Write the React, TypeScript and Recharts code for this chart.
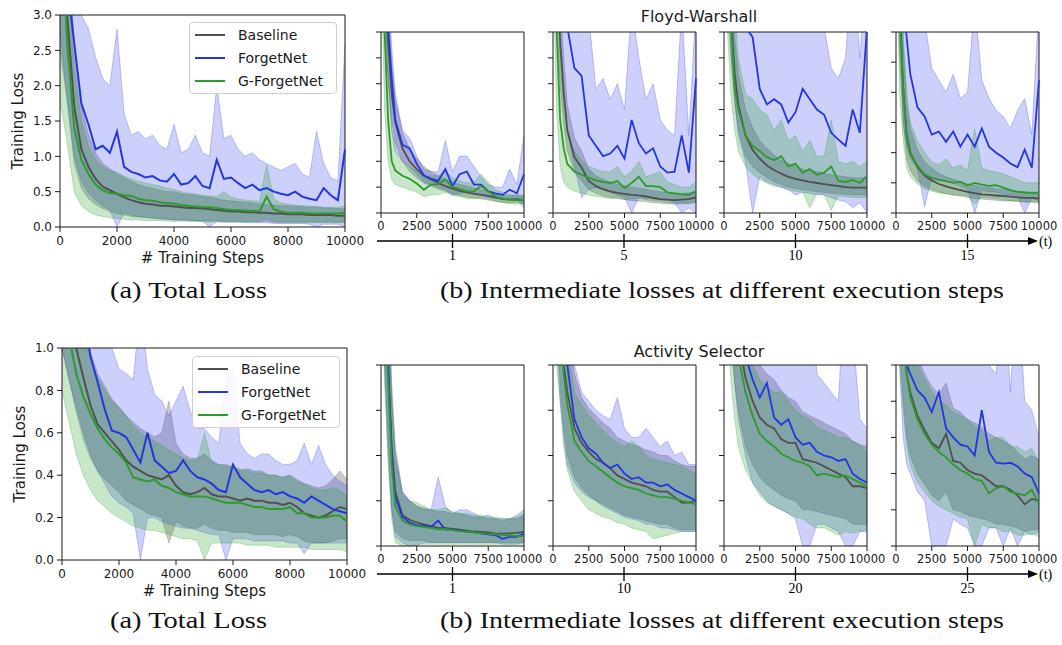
import { Area, ComposedChart, Legend, Line, ReferenceArea, XAxis, YAxis } from "recharts";

// x grids (training steps)
const BIG_STEPS = [0, 250, 500, 750, 1000, 1250, 1500, 1750, 2000, 2250, 2500, 2750, 3000, 3250, 3500, 3750, 4000, 4250, 4500, 4750, 5000, 5250, 5500, 5750, 6000, 6250, 6500, 6750, 7000, 7250, 7500, 7750, 8000, 8250, 8500, 8750, 9000, 9250, 9500, 9750, 10000];
const SMALL_STEPS = [0, 250, 500, 750, 1000, 1500, 2000, 2500, 3000, 3500, 4000, 4500, 5000, 5500, 6000, 6500, 7000, 7500, 8000, 8500, 9000, 9500, 10000];
const BIG_X_TICKS = [0, 2000, 4000, 6000, 8000, 10000];
const SMALL_X_TICKS = [0, 2500, 5000, 7500, 10000];

// ---- Floyd-Warshall, total loss
const fwBaseMean = [5, 3.0, 1.7, 1.1, 0.85, 0.68, 0.57, 0.52, 0.47, 0.42, 0.38, 0.35, 0.33, 0.32, 0.3, 0.3, 0.29, 0.28, 0.27, 0.27, 0.26, 0.25, 0.24, 0.23, 0.22, 0.22, 0.21, 0.21, 0.2, 0.2, 0.19, 0.19, 0.18, 0.18, 0.18, 0.17, 0.17, 0.17, 0.17, 0.16, 0.16];
const fwBaseHi = [5, 4.2, 2.6, 1.7, 1.3, 1.05, 0.9, 0.82, 0.75, 0.7, 0.65, 0.6, 0.57, 0.55, 0.52, 0.5, 0.5, 0.47, 0.46, 0.45, 0.43, 0.42, 0.4, 0.38, 0.37, 0.36, 0.35, 0.34, 0.33, 0.32, 0.31, 0.3, 0.3, 0.29, 0.29, 0.28, 0.28, 0.27, 0.27, 0.26, 0.26];
const fwBaseLo = [2.5, 1.8, 0.9, 0.55, 0.4, 0.32, 0.26, 0.22, 0.19, 0.17, 0.15, 0.14, 0.13, 0.12, 0.11, 0.11, 0.1, 0.1, 0.1, 0.09, 0.09, 0.09, 0.09, 0.08, 0.08, 0.08, 0.08, 0.08, 0.08, 0.08, 0.07, 0.07, 0.07, 0.07, 0.07, 0.07, 0.07, 0.07, 0.07, 0.07, 0.07];
const fwFnMean = [4.5, 3.5, 2.6, 1.75, 1.45, 1.1, 1.15, 1.05, 1.35, 0.85, 0.78, 0.75, 0.7, 0.72, 0.66, 0.64, 0.75, 0.6, 0.62, 0.72, 0.58, 0.55, 0.95, 0.68, 0.7, 0.62, 0.55, 0.6, 0.52, 0.55, 0.5, 0.47, 0.45, 0.5, 0.43, 0.4, 0.38, 0.55, 0.45, 0.38, 1.1];
const fwFnHi = [5, 4.5, 3.5, 3.0, 2.8, 2.4, 2.1, 2.0, 2.8, 1.6, 1.3, 1.35, 1.25, 1.3, 1.15, 1.1, 1.45, 1.05, 1.1, 1.3, 1.05, 1.0, 2.0, 1.25, 1.3, 1.1, 1.0, 1.05, 0.95, 0.9, 0.85, 0.8, 0.85, 0.9, 0.75, 0.7, 1.35, 0.9, 0.7, 0.65, 2.6];
const fwFnLo = [2.8, 1.8, 1.0, 0.65, 0.48, 0.38, 0.3, 0.24, 0.0, 0.2, 0.17, 0.15, 0.14, 0.13, 0.12, 0.11, 0.1, 0.1, 0.09, 0.09, 0.08, 0.0, 0.08, 0.07, 0.07, 0.07, 0.06, 0.06, 0.06, 0.06, 0.05, 0.05, 0.05, 0.05, 0.05, 0.04, 0.0, 0.04, 0.04, 0.04, 0.0];
const fwGfMean = [5, 2.6, 1.4, 0.95, 0.75, 0.6, 0.52, 0.48, 0.47, 0.45, 0.44, 0.4, 0.38, 0.37, 0.35, 0.34, 0.33, 0.31, 0.3, 0.29, 0.28, 0.28, 0.27, 0.25, 0.24, 0.24, 0.23, 0.23, 0.22, 0.43, 0.25, 0.22, 0.2, 0.2, 0.2, 0.19, 0.19, 0.19, 0.19, 0.19, 0.2];
const fwGfHi = [5, 3.8, 2.2, 1.5, 1.15, 0.95, 0.85, 0.8, 0.78, 0.72, 0.68, 0.65, 0.62, 0.6, 0.58, 0.55, 0.53, 0.5, 0.48, 0.47, 0.45, 0.44, 0.43, 0.5, 0.42, 0.4, 0.38, 0.37, 0.36, 0.88, 0.4, 0.34, 0.32, 0.31, 0.3, 0.3, 0.29, 0.28, 0.28, 0.28, 0.3];
const fwGfLo = [1.8, 1.2, 0.5, 0.3, 0.22, 0.17, 0.15, 0.13, 0.12, 0.11, 0.1, 0.1, 0.09, 0.09, 0.09, 0.08, 0.08, 0.08, 0.08, 0.08, 0.07, 0.07, 0.07, 0.07, 0.07, 0.07, 0.07, 0.07, 0.07, 0.12, 0.07, 0.06, 0.06, 0.06, 0.06, 0.06, 0.06, 0.06, 0.06, 0.06, 0.06];

// ---- Floyd-Warshall, execution step 1
const fw1BaseMean = [5, 5, 3.3, 2.3, 1.75, 1.25, 1.0, 0.85, 0.72, 0.65, 0.58, 0.52, 0.47, 0.43, 0.4, 0.37, 0.35, 0.33, 0.3, 0.27, 0.26, 0.27, 0.25];
const fw1BaseHi = [5, 5, 4.0, 2.9, 2.2, 1.55, 1.25, 1.05, 0.9, 0.8, 0.72, 0.65, 0.6, 0.55, 0.52, 0.48, 0.45, 0.42, 0.38, 0.35, 0.33, 0.34, 0.32];
const fw1BaseLo = [5, 3.5, 2.6, 1.8, 1.35, 1.0, 0.8, 0.68, 0.58, 0.52, 0.46, 0.42, 0.37, 0.34, 0.31, 0.29, 0.27, 0.25, 0.23, 0.21, 0.2, 0.21, 0.19];
const fw1FnMean = [5, 5, 3.6, 2.6, 1.8, 1.32, 1.25, 0.95, 0.73, 0.66, 0.62, 0.85, 0.52, 0.75, 0.8, 0.55, 0.55, 0.42, 0.38, 0.35, 0.45, 0.38, 0.75];
const fw1FnHi = [5, 5, 4.5, 3.2, 2.3, 1.6, 1.45, 1.1, 0.85, 0.8, 0.8, 1.4, 0.8, 1.1, 1.1, 0.9, 0.7, 0.55, 0.5, 0.5, 0.85, 0.55, 1.5];
const fw1FnLo = [5, 4, 2.6, 1.6, 1.2, 1.0, 0.9, 0.75, 0.6, 0.55, 0.5, 0.45, 0.35, 0.38, 0.4, 0.38, 0.35, 0.3, 0.28, 0.28, 0.28, 0.28, 0.1];
const fw1GfMean = [5, 3.5, 1.8, 1.0, 0.82, 0.72, 0.66, 0.57, 0.45, 0.55, 0.56, 0.65, 0.5, 0.46, 0.42, 0.42, 0.52, 0.42, 0.32, 0.28, 0.26, 0.25, 0.26];
const fw1GfHi = [5, 5, 2.8, 1.6, 1.2, 1.0, 0.9, 0.8, 0.7, 0.72, 0.72, 0.82, 0.68, 0.62, 0.58, 0.6, 0.75, 0.6, 0.45, 0.4, 0.36, 0.35, 0.35];
const fw1GfLo = [5, 2.0, 1.0, 0.65, 0.55, 0.5, 0.45, 0.4, 0.32, 0.35, 0.36, 0.4, 0.34, 0.32, 0.28, 0.28, 0.3, 0.28, 0.22, 0.2, 0.18, 0.17, 0.18];

// ---- Floyd-Warshall, execution step 5
const fw2BaseMean = [5, 5, 3.3, 2.3, 1.6, 1.08, 0.88, 0.62, 0.52, 0.46, 0.42, 0.39, 0.37, 0.35, 0.34, 0.32, 0.29, 0.27, 0.26, 0.25, 0.26, 0.27, 0.3];
const fw2BaseHi = [5, 5, 4.2, 3.0, 2.1, 1.45, 1.2, 0.85, 0.72, 0.65, 0.6, 0.56, 0.53, 0.5, 0.48, 0.46, 0.43, 0.41, 0.4, 0.38, 0.38, 0.39, 0.42];
const fw2BaseLo = [5, 3.6, 2.5, 1.7, 1.2, 0.8, 0.62, 0.45, 0.38, 0.33, 0.3, 0.28, 0.26, 0.24, 0.23, 0.22, 0.2, 0.19, 0.18, 0.17, 0.18, 0.18, 0.2];
const fw2FnMean = [5, 5, 5, 4.2, 3.6, 2.8, 2.65, 1.5, 1.3, 1.1, 1.15, 1.3, 1.05, 1.8, 1.35, 1.15, 1.25, 0.9, 0.78, 0.8, 1.5, 0.78, 2.6];
const fw2FnHi = [5, 5, 5, 5, 5, 4, 4.5, 3.8, 2.4, 2.6, 2.2, 2.5, 2.0, 4.0, 3.0, 2.2, 2.5, 1.8, 1.6, 1.5, 4.0, 1.5, 4.0];
const fw2FnLo = [5, 5, 3.5, 2.5, 1.6, 0.9, 0.3, 0.45, 0.5, 0.45, 0.4, 0.35, 0.3, 0.0, 0.3, 0.28, 0.3, 0.25, 0.25, 0.2, 0.0, 0.1, 0.0];
const fw2GfMean = [5, 3.6, 1.8, 1.25, 0.95, 0.8, 0.74, 0.68, 0.63, 0.6, 0.58, 0.62, 0.48, 0.58, 0.7, 0.52, 0.52, 0.5, 0.4, 0.38, 0.36, 0.35, 0.42];
const fw2GfHi = [5, 5, 3.0, 2.0, 1.5, 1.2, 1.0, 0.9, 0.85, 0.8, 0.8, 0.9, 0.7, 0.8, 1.0, 0.7, 0.75, 0.8, 0.6, 0.55, 0.5, 0.5, 0.6];
const fw2GfLo = [5, 2.0, 0.9, 0.6, 0.5, 0.42, 0.38, 0.35, 0.32, 0.3, 0.28, 0.3, 0.26, 0.27, 0.3, 0.25, 0.24, 0.23, 0.2, 0.2, 0.2, 0.2, 0.22];

// ---- Floyd-Warshall, execution step 10
const fw3BaseMean = [5, 5, 3.8, 2.7, 2.1, 1.5, 1.22, 1.05, 0.92, 0.83, 0.76, 0.7, 0.66, 0.63, 0.6, 0.58, 0.56, 0.54, 0.52, 0.5, 0.49, 0.49, 0.49];
const fw3BaseHi = [5, 5, 4.6, 3.4, 2.7, 2.0, 1.65, 1.4, 1.25, 1.12, 1.02, 0.95, 0.9, 0.85, 0.82, 0.8, 0.77, 0.74, 0.72, 0.7, 0.68, 0.68, 0.68];
const fw3BaseLo = [5, 4, 3.0, 2.1, 1.6, 1.1, 0.9, 0.78, 0.68, 0.6, 0.55, 0.5, 0.47, 0.45, 0.43, 0.41, 0.4, 0.38, 0.37, 0.36, 0.35, 0.35, 0.35];
const fw3FnMean = [5, 5, 5, 5, 4.5, 3.6, 3.4, 2.4, 2.1, 2.2, 2.1, 1.75, 1.95, 2.4, 2.2, 2.0, 1.9, 1.55, 1.42, 1.3, 2.0, 1.55, 3.6];
const fw3FnHi = [5, 5, 5, 5, 5, 5, 5, 5, 5, 5, 5, 3.8, 4.5, 5, 4, 3.5, 3.6, 2.8, 2.6, 3.0, 5, 3.0, 5];
const fw3FnLo = [5, 5, 3.0, 2.2, 1.5, 1.0, 0.0, 0.7, 0.6, 0.55, 0.5, 0.45, 0.35, 0.4, 0.38, 0.35, 0.35, 0.3, 0.25, 0.22, 0.1, 0.2, 0.0];
const fw3GfMean = [5, 5, 3.6, 2.4, 2.0, 1.5, 1.3, 1.2, 1.08, 1.02, 1.1, 0.9, 0.95, 0.78, 0.85, 0.74, 0.78, 0.9, 0.62, 0.6, 0.64, 0.58, 0.72];
const fw3GfHi = [5, 5, 5, 4.0, 3.0, 2.3, 2.2, 2.0, 1.9, 1.6, 1.8, 1.4, 1.5, 1.2, 1.4, 1.1, 1.1, 1.8, 1.0, 0.95, 1.0, 0.9, 1.0];
const fw3GfLo = [5, 3.5, 2.2, 1.6, 1.2, 0.9, 0.75, 0.65, 0.58, 0.52, 0.5, 0.45, 0.42, 0.4, 0.1, 0.38, 0.36, 0.05, 0.33, 0.32, 0.3, 0.3, 0.3];

// ---- Floyd-Warshall, execution step 15
const fw4BaseMean = [5, 3.5, 2.1, 1.3, 1.0, 0.76, 0.62, 0.54, 0.48, 0.44, 0.41, 0.38, 0.35, 0.33, 0.31, 0.3, 0.29, 0.28, 0.27, 0.26, 0.25, 0.25, 0.24];
const fw4BaseHi = [5, 4.5, 2.8, 1.8, 1.4, 1.05, 0.85, 0.74, 0.66, 0.6, 0.56, 0.52, 0.48, 0.46, 0.43, 0.42, 0.4, 0.39, 0.37, 0.36, 0.35, 0.35, 0.34];
const fw4BaseLo = [5, 2.6, 1.5, 0.9, 0.7, 0.53, 0.44, 0.39, 0.35, 0.32, 0.3, 0.28, 0.26, 0.24, 0.23, 0.22, 0.21, 0.2, 0.2, 0.19, 0.18, 0.18, 0.17];
const fw4FnMean = [5, 5, 3.5, 2.9, 2.3, 1.75, 1.6, 1.3, 1.35, 1.18, 1.35, 1.1, 1.3, 1.1, 1.4, 1.1, 1.0, 0.92, 0.82, 0.76, 1.05, 0.75, 2.2];
const fw4FnHi = [5, 5, 5, 5, 5, 5, 3.2, 2.4, 2.2, 2.0, 2.3, 1.9, 2.0, 3.5, 2.2, 1.9, 1.7, 1.6, 1.4, 1.7, 1.9, 1.3, 3.5];
const fw4FnLo = [5, 3, 1.5, 1.1, 0.9, 0.75, 0.1, 0.6, 0.55, 0.52, 0.5, 0.45, 0.4, 0.0, 0.38, 0.35, 0.35, 0.3, 0.3, 0.28, 0.0, 0.25, 0.2];
const fw4GfMean = [5, 3.4, 2.0, 1.25, 0.98, 0.78, 0.64, 0.58, 0.55, 0.53, 0.5, 0.52, 0.46, 0.5, 0.47, 0.45, 0.46, 0.42, 0.38, 0.35, 0.34, 0.33, 0.34];
const fw4GfHi = [5, 5, 3.0, 2.0, 1.5, 1.2, 1.0, 0.85, 0.8, 0.9, 0.75, 0.8, 0.7, 1.4, 0.75, 0.7, 0.68, 0.65, 0.6, 0.55, 0.5, 0.5, 0.5];
const fw4GfLo = [5, 2.0, 1.2, 0.75, 0.6, 0.48, 0.4, 0.36, 0.33, 0.32, 0.3, 0.3, 0.28, 0.15, 0.26, 0.25, 0.24, 0.22, 0.2, 0.2, 0.19, 0.19, 0.18];

// ---- Activity Selector, total loss
const asBaseMean = [1.3, 1.15, 1.0, 0.86, 0.73, 0.64, 0.6, 0.56, 0.52, 0.47, 0.44, 0.42, 0.4, 0.39, 0.38, 0.4, 0.35, 0.32, 0.31, 0.32, 0.34, 0.31, 0.3, 0.3, 0.29, 0.28, 0.29, 0.28, 0.28, 0.27, 0.27, 0.26, 0.27, 0.25, 0.22, 0.21, 0.2, 0.21, 0.23, 0.25, 0.24];
const asBaseHi = [1.6, 1.5, 1.35, 1.15, 0.98, 0.88, 0.82, 0.76, 0.72, 0.68, 0.65, 0.62, 0.6, 0.58, 0.6, 0.75, 0.55, 0.5, 0.48, 0.48, 0.5, 0.47, 0.45, 0.45, 0.44, 0.42, 0.43, 0.42, 0.42, 0.4, 0.4, 0.39, 0.4, 0.38, 0.36, 0.35, 0.34, 0.35, 0.38, 0.42, 0.38];
const asBaseLo = [1.0, 0.85, 0.7, 0.57, 0.48, 0.42, 0.38, 0.35, 0.32, 0.28, 0.26, 0.24, 0.22, 0.21, 0.2, 0.08, 0.18, 0.16, 0.15, 0.15, 0.17, 0.15, 0.14, 0.14, 0.13, 0.13, 0.13, 0.12, 0.12, 0.12, 0.12, 0.11, 0.12, 0.11, 0.09, 0.08, 0.08, 0.08, 0.09, 0.1, 0.1];
const asFnMean = [1.6, 1.5, 1.35, 1.15, 0.96, 0.84, 0.71, 0.61, 0.6, 0.58, 0.52, 0.46, 0.6, 0.47, 0.44, 0.41, 0.42, 0.47, 0.42, 0.39, 0.38, 0.36, 0.33, 0.32, 0.45, 0.39, 0.36, 0.33, 0.32, 0.33, 0.31, 0.32, 0.3, 0.29, 0.27, 0.3, 0.28, 0.26, 0.24, 0.23, 0.22];
const asFnHi = [1.6, 1.6, 1.6, 1.6, 1.6, 1.6, 1.6, 1.0, 0.9, 0.88, 0.85, 1.2, 0.9, 0.78, 0.75, 0.68, 0.75, 0.82, 0.7, 0.62, 0.62, 0.58, 0.55, 0.85, 0.9, 0.55, 0.5, 0.48, 0.5, 0.5, 0.47, 0.45, 0.45, 0.47, 0.55, 0.45, 0.54, 0.45, 0.4, 0.37, 0.35];
const asFnLo = [1.0, 0.85, 0.72, 0.6, 0.5, 0.42, 0.36, 0.3, 0.27, 0.25, 0.22, 0.0, 0.2, 0.2, 0.18, 0.17, 0.16, 0.15, 0.15, 0.14, 0.13, 0.12, 0.12, 0.0, 0.1, 0.1, 0.1, 0.09, 0.09, 0.09, 0.09, 0.09, 0.08, 0.08, 0.03, 0.08, 0.08, 0.08, 0.08, 0.08, 0.08];
const asGfMean = [1.2, 1.05, 0.88, 0.77, 0.69, 0.62, 0.57, 0.53, 0.5, 0.46, 0.39, 0.38, 0.37, 0.38, 0.35, 0.34, 0.32, 0.31, 0.3, 0.3, 0.3, 0.29, 0.28, 0.27, 0.27, 0.27, 0.26, 0.25, 0.25, 0.24, 0.24, 0.24, 0.25, 0.22, 0.22, 0.2, 0.2, 0.2, 0.21, 0.21, 0.18];
const asGfHi = [1.6, 1.4, 1.2, 1.05, 0.95, 0.86, 0.8, 0.75, 0.72, 0.68, 0.63, 0.6, 0.58, 0.56, 0.54, 0.52, 0.5, 0.48, 0.47, 0.47, 0.6, 0.46, 0.45, 0.44, 0.44, 0.43, 0.42, 0.41, 0.41, 0.4, 0.4, 0.39, 0.4, 0.37, 0.36, 0.34, 0.33, 0.33, 0.34, 0.33, 0.3];
const asGfLo = [0.8, 0.65, 0.5, 0.4, 0.33, 0.28, 0.25, 0.22, 0.2, 0.18, 0.16, 0.15, 0.14, 0.14, 0.13, 0.12, 0.11, 0.1, 0.1, 0.09, 0.0, 0.08, 0.08, 0.08, 0.08, 0.08, 0.07, 0.07, 0.07, 0.07, 0.06, 0.06, 0.06, 0.06, 0.06, 0.05, 0.05, 0.05, 0.05, 0.05, 0.04];

// ---- Activity Selector, execution step 1
const as1BaseMean = [1.5, 1.4, 1.0, 0.55, 0.3, 0.17, 0.145, 0.13, 0.12, 0.11, 0.1, 0.1, 0.095, 0.09, 0.085, 0.08, 0.078, 0.075, 0.07, 0.068, 0.07, 0.072, 0.08];
const as1BaseHi = [1.5, 1.5, 1.4, 0.9, 0.55, 0.3, 0.25, 0.22, 0.21, 0.2, 0.19, 0.19, 0.18, 0.18, 0.17, 0.16, 0.16, 0.15, 0.15, 0.14, 0.15, 0.15, 0.17];
const as1BaseLo = [1.5, 1.0, 0.6, 0.2, 0.08, 0.04, 0.03, 0.03, 0.03, 0.02, 0.02, 0.02, 0.02, 0.02, 0.02, 0.02, 0.02, 0.02, 0.02, 0.02, 0.02, 0.02, 0.02];
const as1FnMean = [1.5, 1.4, 1.0, 0.5, 0.27, 0.16, 0.13, 0.115, 0.112, 0.105, 0.14, 0.09, 0.09, 0.085, 0.08, 0.075, 0.07, 0.065, 0.06, 0.04, 0.05, 0.05, 0.07];
const as1FnHi = [1.5, 1.5, 1.5, 0.8, 0.5, 0.3, 0.25, 0.22, 0.2, 0.2, 0.38, 0.22, 0.18, 0.2, 0.2, 0.18, 0.16, 0.17, 0.15, 0.15, 0.15, 0.17, 0.2];
const as1FnLo = [1.5, 1.0, 0.5, 0.2, 0.05, 0.02, 0, 0, 0.02, 0.02, 0.02, 0.02, 0.02, 0.02, 0.02, 0.02, 0.02, 0.02, 0.02, 0.01, 0.01, 0.01, 0.02];
const as1GfMean = [1.5, 1.3, 0.9, 0.45, 0.22, 0.14, 0.12, 0.11, 0.105, 0.1, 0.09, 0.095, 0.088, 0.082, 0.08, 0.075, 0.07, 0.068, 0.065, 0.06, 0.058, 0.055, 0.055];
const as1GfHi = [1.5, 1.5, 1.3, 0.8, 0.48, 0.28, 0.25, 0.24, 0.22, 0.2, 0.2, 0.21, 0.19, 0.18, 0.18, 0.17, 0.17, 0.16, 0.16, 0.15, 0.15, 0.16, 0.18];
const as1GfLo = [1.5, 0.9, 0.45, 0.15, 0.02, 0, 0, 0.01, 0.01, 0.01, 0.01, 0.01, 0.01, 0.01, 0.01, 0.01, 0.01, 0.01, 0.01, 0.01, 0.01, 0.01, 0.01];

// ---- Activity Selector, execution step 10
const as2BaseMean = [1.5, 1.5, 1.3, 1.0, 0.85, 0.65, 0.57, 0.52, 0.48, 0.46, 0.43, 0.39, 0.37, 0.35, 0.34, 0.33, 0.31, 0.3, 0.3, 0.27, 0.24, 0.24, 0.25];
const as2BaseHi = [1.5, 1.5, 1.5, 1.4, 1.2, 0.95, 0.82, 0.76, 0.72, 0.68, 0.65, 0.6, 0.58, 0.56, 0.55, 0.53, 0.52, 0.5, 0.5, 0.47, 0.45, 0.44, 0.44];
const as2BaseLo = [1.5, 1.2, 0.9, 0.65, 0.5, 0.38, 0.32, 0.28, 0.25, 0.23, 0.21, 0.19, 0.17, 0.16, 0.15, 0.14, 0.13, 0.12, 0.12, 0.1, 0.09, 0.09, 0.09];
const as2FnMean = [1.5, 1.5, 1.3, 1.1, 1.0, 0.7, 0.6, 0.54, 0.51, 0.46, 0.43, 0.45, 0.4, 0.37, 0.38, 0.35, 0.35, 0.33, 0.34, 0.31, 0.29, 0.27, 0.25];
const as2FnHi = [1.5, 1.5, 1.5, 1.5, 1.2, 1.0, 0.85, 0.8, 0.75, 0.72, 0.7, 0.82, 0.65, 0.6, 0.6, 0.65, 0.6, 0.55, 0.58, 0.5, 0.52, 0.45, 0.45];
const as2FnLo = [1.5, 1.2, 0.8, 0.6, 0.45, 0.35, 0.3, 0.27, 0.25, 0.22, 0.2, 0.18, 0.16, 0.15, 0.14, 0.12, 0.12, 0.1, 0.1, 0.09, 0.08, 0.08, 0.08];
const as2GfMean = [1.5, 1.4, 1.2, 0.95, 0.78, 0.58, 0.52, 0.47, 0.44, 0.41, 0.38, 0.35, 0.33, 0.32, 0.31, 0.29, 0.28, 0.27, 0.27, 0.26, 0.25, 0.24, 0.23];
const as2GfHi = [1.5, 1.5, 1.5, 1.3, 1.1, 0.85, 0.78, 0.72, 0.68, 0.64, 0.6, 0.57, 0.55, 0.58, 0.55, 0.5, 0.48, 0.47, 0.46, 0.45, 0.44, 0.42, 0.4];
const as2GfLo = [1.5, 1.0, 0.8, 0.55, 0.42, 0.3, 0.25, 0.2, 0.18, 0.16, 0.15, 0.13, 0.12, 0.1, 0.09, 0.08, 0.04, 0.05, 0.06, 0.07, 0.08, 0.08, 0.08];

// ---- Activity Selector, execution step 20
const as3BaseMean = [1.5, 1.5, 1.5, 1.3, 1.15, 0.93, 0.8, 0.71, 0.67, 0.65, 0.59, 0.57, 0.57, 0.48, 0.47, 0.46, 0.44, 0.42, 0.4, 0.38, 0.33, 0.33, 0.32];
const as3BaseHi = [1.5, 1.5, 1.5, 1.5, 1.5, 1.3, 1.1, 1.0, 0.95, 0.92, 0.86, 0.82, 0.8, 0.74, 0.72, 0.7, 0.68, 0.66, 0.64, 0.62, 0.58, 0.56, 0.55];
const as3BaseLo = [1.5, 1.5, 1.1, 0.9, 0.75, 0.55, 0.45, 0.38, 0.34, 0.31, 0.28, 0.26, 0.25, 0.2, 0.2, 0.19, 0.18, 0.17, 0.16, 0.15, 0.12, 0.12, 0.12];
const as3FnMean = [1.5, 1.5, 1.5, 1.4, 1.3, 1.05, 0.92, 0.82, 0.9, 0.71, 0.67, 0.7, 0.6, 0.56, 0.57, 0.52, 0.5, 0.49, 0.47, 0.48, 0.4, 0.37, 0.35];
const as3FnHi = [1.5, 1.5, 1.5, 1.5, 1.5, 1.5, 1.5, 1.5, 1.5, 1.5, 1.5, 1.5, 1.0, 1.5, 1.5, 0.95, 0.9, 0.85, 0.8, 1.5, 1.2, 0.7, 0.65];
const as3FnLo = [1.5, 1.5, 1.2, 0.9, 0.7, 0.5, 0.35, 0.3, 0.25, 0.22, 0.2, 0.18, 0.15, 0.0, 0.0, 0.12, 0.12, 0.1, 0.08, 0.0, 0.0, 0.08, 0.08];
const as3GfMean = [1.5, 1.5, 1.4, 1.2, 1.05, 0.85, 0.72, 0.62, 0.58, 0.55, 0.51, 0.49, 0.47, 0.46, 0.44, 0.39, 0.4, 0.39, 0.38, 0.39, 0.37, 0.35, 0.33];
const as3GfHi = [1.5, 1.5, 1.5, 1.5, 1.4, 1.15, 1.0, 0.92, 0.88, 0.85, 0.85, 0.8, 0.75, 0.72, 0.7, 0.66, 0.64, 0.62, 0.6, 0.6, 0.58, 0.56, 0.52];
const as3GfLo = [1.5, 1.2, 0.9, 0.7, 0.55, 0.42, 0.35, 0.28, 0.24, 0.22, 0.2, 0.18, 0.16, 0.15, 0.12, 0.1, 0.1, 0.08, 0.06, 0.08, 0.07, 0.08, 0.09];

// ---- Activity Selector, execution step 25
const as4BaseMean = [1.5, 1.5, 1.2, 0.95, 0.85, 0.72, 0.64, 0.57, 0.54, 0.62, 0.47, 0.46, 0.42, 0.4, 0.39, 0.36, 0.33, 0.33, 0.31, 0.28, 0.23, 0.26, 0.25];
const as4BaseHi = [1.5, 1.5, 1.5, 1.3, 1.2, 1.05, 0.95, 0.88, 0.84, 0.9, 0.76, 0.74, 0.7, 0.68, 0.66, 0.62, 0.6, 0.58, 0.56, 0.52, 0.48, 0.5, 0.48];
const as4BaseLo = [1.5, 1.1, 0.8, 0.6, 0.5, 0.4, 0.34, 0.28, 0.25, 0.3, 0.2, 0.19, 0.17, 0.16, 0.15, 0.14, 0.12, 0.12, 0.11, 0.1, 0.08, 0.09, 0.09];
const as4FnMean = [1.5, 1.5, 1.3, 1.0, 0.95, 0.86, 0.82, 0.74, 0.85, 0.65, 0.6, 0.56, 0.55, 0.5, 0.75, 0.52, 0.46, 0.455, 0.46, 0.44, 0.4, 0.38, 0.29];
const as4FnHi = [1.5, 1.5, 1.5, 1.5, 1.5, 1.5, 1.5, 1.5, 1.5, 1.5, 1.0, 1.5, 1.5, 1.5, 1.5, 1.0, 0.95, 1.5, 0.85, 1.5, 0.8, 0.75, 0.6];
const as4FnLo = [1.5, 1.0, 0.6, 0.45, 0.4, 0.3, 0.25, 0.0, 0.0, 0.0, 0.15, 0.12, 0.1, 0.0, 0.0, 0.1, 0.1, 0.0, 0.1, 0.0, 0.08, 0.06, 0.08];
const as4GfMean = [1.5, 1.5, 1.2, 0.95, 0.82, 0.7, 0.62, 0.56, 0.52, 0.49, 0.45, 0.42, 0.4, 0.37, 0.36, 0.29, 0.32, 0.33, 0.3, 0.29, 0.28, 0.31, 0.23];
const as4GfHi = [1.5, 1.5, 1.5, 1.3, 1.15, 1.0, 0.92, 0.85, 0.8, 0.78, 0.74, 0.72, 0.7, 0.66, 0.64, 0.58, 0.6, 0.6, 0.55, 0.55, 0.52, 0.54, 0.46];
const as4GfLo = [1.5, 1.0, 0.75, 0.55, 0.45, 0.35, 0.3, 0.25, 0.22, 0.2, 0.18, 0.16, 0.15, 0.0, 0.12, 0.1, 0.1, 0.08, 0.08, 0.06, 0.06, 0.07, 0.05];

const FW_EXEC_LABELS = ["1", "5", "10", "15"];
const AS_EXEC_LABELS = ["1", "10", "20", "25"];

const SERIES = [
  { key: "base", name: "Baseline", line: "#505050", fill: "#505050", alpha: 0.3 },
  { key: "fnet", name: "ForgetNet", line: "#2236e2", fill: "#2a3cf0", alpha: 0.24 },
  { key: "gfn", name: "G-ForgetNet", line: "#2e9a2a", fill: "#2ca02c", alpha: 0.26 },
];

type Stat = { mean: number[]; lo: number[]; hi: number[] };
type Box = { x0: number; y0: number; x1: number; y1: number };

const TEXT = "#1a1a1a";
const SANS = "'DejaVu Sans', sans-serif";
const SERIF = "'Liberation Serif', serif";

// layout of the small panels
const SMALL_X = [381, 552.5, 724, 896];
const SMALL_W = 143;

function rows(steps: number[], stats: Stat[]) {
  return steps.map((step, i) => {
    const r: Record<string, any> = { step };
    SERIES.forEach((s, k) => {
      r[s.key] = stats[k].mean[i];
      r[s.key + "Band"] = [stats[k].lo[i], stats[k].hi[i]];
    });
    return r;
  });
}

function LegendBox() {
  return (
    <div
      style={{
        border: "1px solid #cfcfcf",
        borderRadius: 4,
        background: "rgba(255,255,255,0.85)",
        padding: "0 4px 0 5px",
        width: 137,
        fontFamily: SANS,
      }}
    >
      {SERIES.map((s) => (
        <div key={s.key} style={{ display: "flex", alignItems: "center", height: 23.3 }}>
          <span style={{ display: "inline-block", width: 30, borderTop: `2px solid ${s.line}`, marginRight: 13 }} />
          <span style={{ fontSize: 14, color: TEXT }}>{s.name}</span>
        </div>
      ))}
    </div>
  );
}

// unlabelled y ticks on the small panels: keep the tick marks, drop the text
const NoLabel = () => <g />;

function LossPanel({
  box,
  steps,
  stats,
  domain,
  yTicks,
  big = false,
  legendAt,
}: {
  box: Box;
  steps: number[];
  stats: Stat[];
  domain: [number, number];
  yTicks: number[];
  big?: boolean;
  legendAt?: { x: number; y: number };
}) {
  const yw = big ? 50 : 10;
  const xh = big ? 40 : 24;
  const padT = 8;
  const padR = 22;
  const left = box.x0 - yw;
  const top = box.y0 - padT;
  const width = yw + (box.x1 - box.x0) + padR;
  const height = padT + (box.y1 - box.y0) + xh;
  const data = rows(steps, stats);

  return (
    <div style={{ position: "absolute", left, top, width, height }}>
      <ComposedChart width={width} height={height} data={data} margin={{ top: padT, right: padR, bottom: 0, left: 0 }}>
        <XAxis
          type="number"
          dataKey="step"
          domain={[0, 10000]}
          ticks={big ? BIG_X_TICKS : SMALL_X_TICKS}
          interval={0}
          height={xh}
          axisLine={false}
          tickSize={5}
          tickMargin={4}
          tickLine={{ stroke: TEXT }}
          tick={{ fontSize: big ? 12 : 11.5, fill: TEXT }}
          label={
            big
              ? { value: "# Training Steps", position: "insideBottom", offset: 4, fontSize: 15, fill: TEXT }
              : undefined
          }
        />
        <YAxis
          type="number"
          domain={domain}
          ticks={yTicks}
          allowDataOverflow
          width={yw}
          axisLine={false}
          tickSize={5}
          tickMargin={3}
          tickLine={{ stroke: TEXT }}
          tick={big ? { fontSize: 12, fill: TEXT } : NoLabel}
          tickFormatter={(v: number) => v.toFixed(1)}
          label={
            big
              ? {
                  value: "Training Loss",
                  angle: -90,
                  position: "insideLeft",
                  offset: 8,
                  fontSize: 15,
                  fill: TEXT,
                  style: { textAnchor: "middle" },
                }
              : undefined
          }
        />
        {SERIES.map((s) => (
          <Area
            key={s.key + "Band"}
            type="linear"
            dataKey={s.key + "Band"}
            stroke={s.fill}
            strokeOpacity={0.35}
            strokeWidth={0.8}
            fill={s.fill}
            fillOpacity={s.alpha}
            dot={false}
            activeDot={false}
            isAnimationActive={false}
          />
        ))}
        {SERIES.map((s) => (
          <Line
            key={s.key}
            type="linear"
            dataKey={s.key}
            stroke={s.line}
            strokeWidth={big ? 2 : 1.8}
            dot={false}
            activeDot={false}
            isAnimationActive={false}
          />
        ))}
        <ReferenceArea x1={0} x2={10000} y1={domain[0]} y2={domain[1]} fill="none" stroke={TEXT} strokeWidth={1} />
        {legendAt && (
          <Legend
            layout="vertical"
            align="center"
            verticalAlign="middle"
            wrapperStyle={{ left: legendAt.x - left, top: legendAt.y - top, width: 148 }}
            content={() => <LegendBox />}
          />
        )}
      </ComposedChart>
    </div>
  );
}

function Timeline({ y, labels }: { y: number; labels: string[] }) {
  return (
    <g>
      <line x1={377} x2={1031} y1={y} y2={y} stroke="#000" strokeWidth={1.3} />
      <polygon points={`1038,${y} 1028,${y - 4} 1028,${y + 4}`} fill="#000" />
      {SMALL_X.map((x, i) => (
        <g key={i}>
          <line x1={x + SMALL_W / 2} x2={x + SMALL_W / 2} y1={y - 7} y2={y + 7} stroke="#000" strokeWidth={1.3} />
          <text x={x + SMALL_W / 2} y={y + 18.5} textAnchor="middle" fontSize={14} fontFamily={SERIF}>
            {labels[i]}
          </text>
        </g>
      ))}
      <text x={1039} y={y + 5} fontSize={14} fontFamily={SERIF}>
        (t)
      </text>
    </g>
  );
}

const fwTotal: Stat[] = [
  { mean: fwBaseMean, lo: fwBaseLo, hi: fwBaseHi },
  { mean: fwFnMean, lo: fwFnLo, hi: fwFnHi },
  { mean: fwGfMean, lo: fwGfLo, hi: fwGfHi },
];
const fwSteps: Stat[][] = [
  [
    { mean: fw1BaseMean, lo: fw1BaseLo, hi: fw1BaseHi },
    { mean: fw1FnMean, lo: fw1FnLo, hi: fw1FnHi },
    { mean: fw1GfMean, lo: fw1GfLo, hi: fw1GfHi },
  ],
  [
    { mean: fw2BaseMean, lo: fw2BaseLo, hi: fw2BaseHi },
    { mean: fw2FnMean, lo: fw2FnLo, hi: fw2FnHi },
    { mean: fw2GfMean, lo: fw2GfLo, hi: fw2GfHi },
  ],
  [
    { mean: fw3BaseMean, lo: fw3BaseLo, hi: fw3BaseHi },
    { mean: fw3FnMean, lo: fw3FnLo, hi: fw3FnHi },
    { mean: fw3GfMean, lo: fw3GfLo, hi: fw3GfHi },
  ],
  [
    { mean: fw4BaseMean, lo: fw4BaseLo, hi: fw4BaseHi },
    { mean: fw4FnMean, lo: fw4FnLo, hi: fw4FnHi },
    { mean: fw4GfMean, lo: fw4GfLo, hi: fw4GfHi },
  ],
];
const asTotal: Stat[] = [
  { mean: asBaseMean, lo: asBaseLo, hi: asBaseHi },
  { mean: asFnMean, lo: asFnLo, hi: asFnHi },
  { mean: asGfMean, lo: asGfLo, hi: asGfHi },
];
const asSteps: Stat[][] = [
  [
    { mean: as1BaseMean, lo: as1BaseLo, hi: as1BaseHi },
    { mean: as1FnMean, lo: as1FnLo, hi: as1FnHi },
    { mean: as1GfMean, lo: as1GfLo, hi: as1GfHi },
  ],
  [
    { mean: as2BaseMean, lo: as2BaseLo, hi: as2BaseHi },
    { mean: as2FnMean, lo: as2FnLo, hi: as2FnHi },
    { mean: as2GfMean, lo: as2GfLo, hi: as2GfHi },
  ],
  [
    { mean: as3BaseMean, lo: as3BaseLo, hi: as3BaseHi },
    { mean: as3FnMean, lo: as3FnLo, hi: as3FnHi },
    { mean: as3GfMean, lo: as3GfLo, hi: as3GfHi },
  ],
  [
    { mean: as4BaseMean, lo: as4BaseLo, hi: as4BaseHi },
    { mean: as4FnMean, lo: as4FnLo, hi: as4FnHi },
    { mean: as4GfMean, lo: as4GfLo, hi: as4GfHi },
  ],
];

const FW_Y_MAIN: [number, number] = [0, 3];
const FW_Y_SMALL: [number, number][] = [[0, 3.5], [0, 3.5], [0, 3.5], [0, 3]];
const AS_Y_MAIN: [number, number] = [0, 1];
const AS_Y_SMALL: [number, number][] = [[0, 1], [0, 1], [0, 1], [0, 1]];
const FW_TICKS_MAIN = [0, 0.5, 1, 1.5, 2, 2.5, 3];
const FW_TICKS_SMALL = [[0, 0.5, 1, 1.5, 2, 2.5, 3, 3.5], [0, 0.5, 1, 1.5, 2, 2.5, 3, 3.5], [0, 0.5, 1, 1.5, 2, 2.5, 3, 3.5], [0, 0.5, 1, 1.5, 2, 2.5, 3]];
const AS_TICKS_MAIN = [0, 0.2, 0.4, 0.6, 0.8, 1];
const AS_TICKS_SMALL = [[0, 0.25, 0.5, 0.75, 1], [0, 0.25, 0.5, 0.75, 1], [0, 0.25, 0.5, 0.75, 1], [0, 0.2, 0.4, 0.6, 0.8, 1]];

const captionProps = { textAnchor: "middle" as const, fontSize: 22.5, fontFamily: SERIF, fill: "#111", lengthAdjust: "spacingAndGlyphs" };

export default function App() {
  return (
    <div
      style={{
        position: "absolute",
        left: 0,
        top: 0,
        width: 1062,
        height: 645,
        background: "#fff",
        overflow: "hidden",
        fontFamily: SANS,
      }}
    >
      {/* Floyd-Warshall row */}
      <LossPanel
        box={{ x0: 60, y0: 15, x1: 345, y1: 227 }}
        steps={BIG_STEPS}
        stats={fwTotal}
        domain={FW_Y_MAIN}
        yTicks={FW_TICKS_MAIN}
        big
        legendAt={{ x: 189, y: 22 }}
      />
      {fwSteps.map((st, i) => (
        <LossPanel
          key={"fw" + i}
          box={{ x0: SMALL_X[i], y0: 32, x1: SMALL_X[i] + SMALL_W, y1: 213 }}
          steps={SMALL_STEPS}
          stats={st}
          domain={FW_Y_SMALL[i]}
          yTicks={FW_TICKS_SMALL[i]}
        />
      ))}

      {/* Activity Selector row */}
      <LossPanel
        box={{ x0: 62, y0: 348, x1: 347, y1: 560 }}
        steps={BIG_STEPS}
        stats={asTotal}
        domain={AS_Y_MAIN}
        yTicks={AS_TICKS_MAIN}
        big
        legendAt={{ x: 192, y: 356 }}
      />
      {asSteps.map((st, i) => (
        <LossPanel
          key={"as" + i}
          box={{ x0: SMALL_X[i], y0: 365, x1: SMALL_X[i] + SMALL_W, y1: 546 }}
          steps={SMALL_STEPS}
          stats={st}
          domain={AS_Y_SMALL[i]}
          yTicks={AS_TICKS_SMALL[i]}
        />
      ))}

      <svg width={1062} height={645} style={{ position: "absolute", left: 0, top: 0, pointerEvents: "none" }}>
        <text x={699} y={22} textAnchor="middle" fontSize={16} fontFamily={SANS} fill={TEXT}>
          Floyd-Warshall
        </text>
        <text x={699} y={357} textAnchor="middle" fontSize={16} fontFamily={SANS} fill={TEXT}>
          Activity Selector
        </text>
        <Timeline y={241} labels={FW_EXEC_LABELS} />
        <Timeline y={574} labels={AS_EXEC_LABELS} />
        <text x={188.5} y={298} textLength={157} {...captionProps}>
          (a) Total Loss
        </text>
        <text x={722} y={298} textLength={564} {...captionProps}>
          (b) Intermediate losses at different execution steps
        </text>
        <text x={188.5} y={628} textLength={157} {...captionProps}>
          (a) Total Loss
        </text>
        <text x={722} y={628} textLength={564} {...captionProps}>
          (b) Intermediate losses at different execution steps
        </text>
      </svg>
    </div>
  );
}
